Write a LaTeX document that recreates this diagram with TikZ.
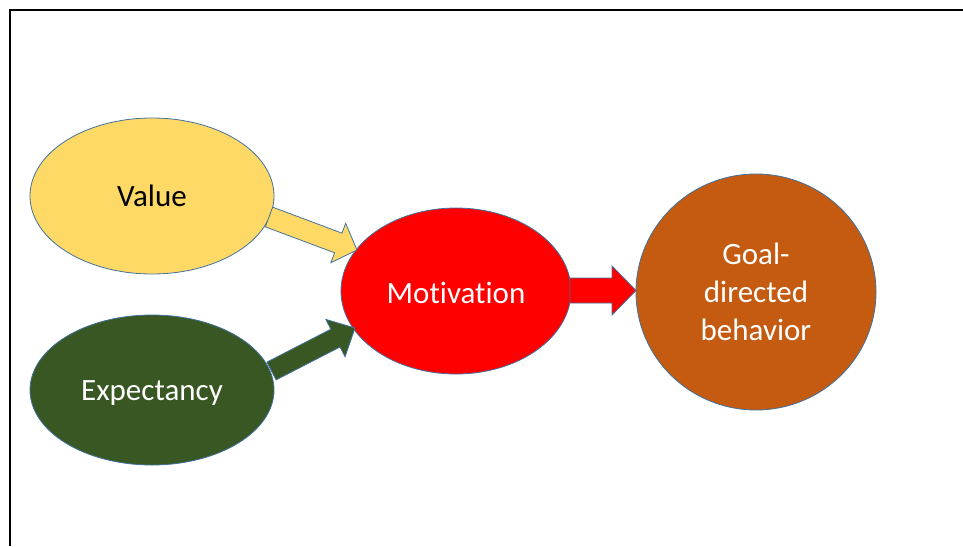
\documentclass[tikz,border=0pt]{standalone}
\usepackage{fontspec}
\setmainfont{Carlito}[Ligatures=NoCommon]
\usetikzlibrary{shapes.geometric,calc}
\definecolor{valfill}{HTML}{FFD966}
\definecolor{expfill}{HTML}{385723}
\definecolor{motfill}{HTML}{FF0000}
\definecolor{goalfill}{HTML}{C55A11}
\definecolor{edgeblue}{HTML}{41719C}
\tikzset{
  bubble/.style={ellipse, draw=edgeblue, line width=0.8pt, inner sep=0pt,
    font=\fontsize{31}{38}\selectfont, align=center},
  oneline/.style={text height=#1, text depth=0pt},
  oneline/.default=20pt,
  blockarrow/.style={draw=edgeblue, line width=0.8pt, line join=miter},
  frameline/.style={line width=1.8pt}
}
% block arrow from tail #1 to tip #2: shaft half-width #3, head half-width #4, head length #5
\newcommand{\blockarr}[6]{%
  \path ($(#2)!#5!(#1)$) coordinate (hb);
  \draw[blockarrow, fill=#6]
    ($(#1)!#3!90:(#2)$) -- ($(hb)!#3!-90:(#1)$) -- ($(hb)!#4!-90:(#1)$)
    -- (#2) -- ($(hb)!#4!90:(#1)$) -- ($(hb)!#3!90:(#1)$)
    -- ($(#1)!#3!-90:(#2)$) -- cycle;}
\begin{document}
\begin{tikzpicture}[x=1pt,y=-1pt]
  \useasboundingbox (0,0) rectangle (963,546);
  % frame: top and left edges
  \draw[frameline] (10,546) -- (10,10) -- (963,10);

  \node[bubble, oneline=21.4pt, fill=valfill, minimum width=244pt, minimum height=156pt] (val) at (152,196) {Value};
  \node[bubble, oneline, fill=expfill, text=white, minimum width=244pt, minimum height=150pt] (exp) at (152,390) {Expectancy};
  \node[bubble, oneline=24pt, fill=motfill, text=white, minimum width=230pt, minimum height=166pt] (mot) at (456,291) {Motivation};
  \node[bubble, fill=goalfill, text=white, minimum width=240pt, minimum height=236pt] (goal) at (756,292) {Goal-\\directed\\behavior};

  % arrow ends
  \coordinate (vt) at (269,217);
  \coordinate (vh) at (357,250);
  \coordinate (et) at (271.5,371);
  \coordinate (eh) at (355,328);
  \coordinate (mt) at (570,290.5);
  \coordinate (mh) at (636,290.5);

  \blockarr{vt}{vh}{10.5pt}{21pt}{20pt}{valfill}
  \blockarr{et}{eh}{10pt}{21pt}{22pt}{expfill}
  \blockarr{mt}{mh}{12.5pt}{24.5pt}{24pt}{motfill}
\end{tikzpicture}
\end{document}
